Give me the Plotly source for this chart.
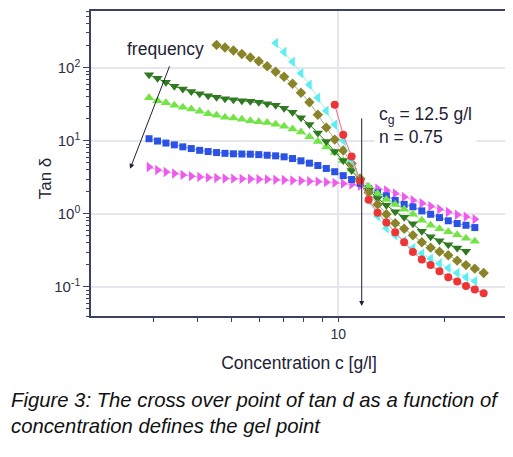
import math
import plotly.graph_objects as go

# concentration grid shared by all series (g/l)
CONC = [2.918, 3.083, 3.257, 3.441, 3.636, 3.841, 4.057, 4.287, 4.529, 4.784,
        5.054, 5.340, 5.642, 5.961, 6.297, 6.653, 7.030, 7.427, 7.846, 8.289,
        8.757, 9.252, 9.774, 10.33, 10.91, 11.53, 12.19, 12.92, 13.68, 14.49,
        15.36, 16.26, 17.23, 18.25, 19.33, 20.47, 21.69, 22.97, 24.33, 25.77]

# tan delta per frequency (lowest freq = top curve)
TAN_MAGENTA = [4.39, 4.00, 3.75, 3.58, 3.42, 3.29, 3.21, 3.14, 3.10, 3.06,
               3.04, 3.02, 3.00, 2.98, 2.97, 2.94, 2.91, 2.87, 2.84, 2.80,
               2.77, 2.72, 2.66, 2.60, 2.53, 2.43, 2.33, 2.21, 2.10, 1.91,
               1.71, 1.54, 1.40, 1.27, 1.16, 1.06, 0.972, 0.913, 0.844, None]
TAN_BLUE = [10.7, 9.94, 9.33, 8.82, 8.28, 7.85, 7.42, 7.14, 6.92, 6.75,
            6.65, 6.61, 6.57, 6.48, 6.36, 6.24, 6.05, 5.73, 5.33, 4.95,
            4.60, 4.19, 3.78, 3.34, 2.96, 2.62, 2.23, 1.94, 1.77, 1.53,
            1.35, 1.25, 1.10, 0.988, 0.890, 0.805, 0.738, 0.699, 0.650, None]
TAN_LGREEN = [39.0, 35.5, 33.3, 30.8, 28.9, 27.3, 25.5, 23.6, 22.4, 21.1,
              20.5, 19.7, 18.9, 18.3, 17.8, 16.9, 15.9, 14.5, 13.2, 11.4,
              9.78, 8.23, 6.92, 5.39, 4.12, 3.06, 2.38, 1.91, 1.58, 1.35,
              1.16, 0.988, 0.818, 0.699, 0.626, 0.570, 0.519, 0.465, 0.423, None]
TAN_DGREEN = [80.3, 71.9, 63.4, 55.9, 51.2, 47.5, 44.2, 41.5, 39.4, 37.8,
              36.6, 35.5, 34.9, 33.8, 32.3, 30.8, 28.0, 24.7, 20.8, 16.7,
              12.8, 9.78, 7.14, 5.39, 3.93, 2.83, 2.10, 1.63, 1.31, 1.07,
              0.899, 0.733, 0.579, 0.487, 0.430, 0.379, 0.340, 0.309, None, None]
TAN_OLIVE = [None, None, None, None, None, None, None, None, 206, 190,
             173, 155, 139, 123, 105, 88.2, 75.4, 60.5, 45.6, 33.8,
             22.8, 15.2, 10.4, 7.38, 4.90, 3.06, 1.97, 1.35, 0.988, 0.744,
             0.626, 0.511, 0.410, 0.345, 0.304, 0.272, 0.229, 0.199, 0.178, 0.155]
TAN_CYAN = [None, None, None, None, None, None, None, None, None, None,
            None, None, None, None, None, 219, 165, 121, 84.1, 58.6,
            39.0, 25.9, 16.7, 10.1, 5.39, 2.78, 1.53, 0.927, 0.636, 0.511,
            0.430, 0.340, 0.286, 0.244, 0.209, 0.181, 0.155, 0.136, 0.120, None]
TAN_RED = [None, None, None, None, None, None, None, None, None, None,
           None, None, None, None, None, None, None, None, None, None,
           None, None, 31.3, 12.08, 6.11, 2.83, 1.557, 1.04, 0.761, 0.561,
           0.410, 0.302, 0.238, 0.199, 0.164, 0.136, 0.119, 0.103, 0.0919, 0.0818]

Y_TICKS = [0.1, 1, 10, 100]
Y_TICKTEXT = ['10<sup>-1</sup>', '10<sup>0</sup>', '10<sup>1</sup>', '10<sup>2</sup>']
X_TICKS = [10]
X_MINOR = [3, 4, 5, 6, 7, 8, 9, 20]

C_G = 11.65  # where the vertical marker is drawn

series = [
    (TAN_MAGENTA, 'triangle-right', '#ee5cee', '#f39af3', 9),
    (TAN_BLUE, 'square', '#2a52e4', '#7f98ee', 7),
    (TAN_LGREEN, 'triangle-up', '#72e444', '#a6ee88', 9),
    (TAN_DGREEN, 'triangle-down', '#2f7a20', '#2f7a20', 9),
    (TAN_OLIVE, 'diamond', '#8a8428', '#a8a89c', 8),
    (TAN_CYAN, 'triangle-left', '#5ceef2', '#9ef2f4', 9),
    (TAN_RED, 'circle', '#ee3434', '#f56a7a', 8),
]

axis_col = '#3c4262'
grid_col = '#e6e6ee'
font_fam = 'Liberation Sans, Arial, sans-serif'

fig = go.Figure()
for vals, sym, col, line_col, size in series:
    fig.add_trace(go.Scatter(
        x=CONC, y=vals, mode='lines+markers',
        marker=dict(symbol=sym, color=col, size=size, line=dict(width=0)),
        line=dict(color=line_col, width=1),
        hoverinfo='x+y'
    ))

minor_y = [m * 10 ** e for e in range(-2, 3) for m in range(2, 10)]

fig.update_xaxes(
    type='log', range=[math.log10(2), math.log10(30)],
    tickmode='array', tickvals=X_TICKS, ticktext=['10'],
    ticks='outside', ticklen=4, tickcolor=axis_col,
    tickfont=dict(size=14, color='#2b2f45'),
    showgrid=True, gridcolor=grid_col, gridwidth=1.5,
    minor=dict(tickmode='array', tickvals=X_MINOR, ticks='outside',
               ticklen=4, tickcolor=axis_col, showgrid=False),
    showline=True, linecolor=axis_col, linewidth=1.5, mirror=True,
    zeroline=False,
    title=dict(text='Concentration c [g/l]', font=dict(size=17.5, color='#1e2236'),
               standoff=16)
)
fig.update_yaxes(
    type='log', range=[math.log10(0.04), math.log10(600)],
    tickmode='array', tickvals=Y_TICKS, ticktext=Y_TICKTEXT,
    ticks='outside', ticklen=6, tickcolor=axis_col,
    tickfont=dict(size=15, color='#2b2f45'),
    showgrid=True, gridcolor=grid_col, gridwidth=1.5,
    minor=dict(tickmode='array', tickvals=minor_y, ticks='outside',
               ticklen=3, tickcolor=axis_col, showgrid=False),
    showline=True, linecolor=axis_col, linewidth=1.5, mirror=True,
    zeroline=False
)

# frequency arrow
fig.add_annotation(x=math.log10(2.58), y=math.log10(4.15), xref='x', yref='y',
                   ax=40, ay=-104, axref='pixel', ayref='pixel',
                   showarrow=True, arrowhead=2, arrowsize=1, arrowwidth=1,
                   arrowcolor='#1e2236', text='')
fig.add_annotation(x=math.log10(3.25), y=math.log10(181), xref='x', yref='y',
                   text='frequency', showarrow=False,
                   font=dict(size=17.5, color='#1e2236'))

# gel point marker
fig.add_annotation(x=math.log10(C_G), y=math.log10(0.055), xref='x', yref='y',
                   ax=0, ay=-189, showarrow=True, arrowhead=2, arrowsize=1,
                   arrowwidth=1, arrowcolor='#1e2236', text='')
fig.add_annotation(x=math.log10(12.65), y=math.log10(16.3), xref='x', yref='y',
                   xanchor='left', yanchor='middle', align='left',
                   text='c<sub>g</sub> = 12.5 g/l<br>n = 0.75', showarrow=False,
                   bgcolor='white', borderpad=4,
                   font=dict(size=17.5, color='#1e2236'))

# y title
fig.add_annotation(x=-0.137, y=0.45, xref='paper', yref='paper',
                   text='Tan δ', textangle=-90, showarrow=False,
                   font=dict(size=17, color='#1e2236'))

# caption
fig.add_annotation(x=-0.197, y=-0.277, xref='paper', yref='paper',
                   xanchor='left', yanchor='middle', showarrow=False,
                   text='<i>Figure 3: The cross over point of tan d as a function of</i>',
                   font=dict(size=20.3, color='#111111'))
fig.add_annotation(x=-0.197, y=-0.362, xref='paper', yref='paper',
                   xanchor='left', yanchor='middle', showarrow=False,
                   text='<i>concentration defines the gel point</i>',
                   font=dict(size=20.3, color='#111111'))

# page body has an 8px margin, so the figure is sized/offset to compensate
fig.update_layout(
    width=505, height=449,
    margin=dict(l=83, r=6, t=1, b=141),
    plot_bgcolor='white', paper_bgcolor='white',
    showlegend=False,
    font=dict(family=font_fam, color='#1e2236')
)

fig.write_html('out.html')
